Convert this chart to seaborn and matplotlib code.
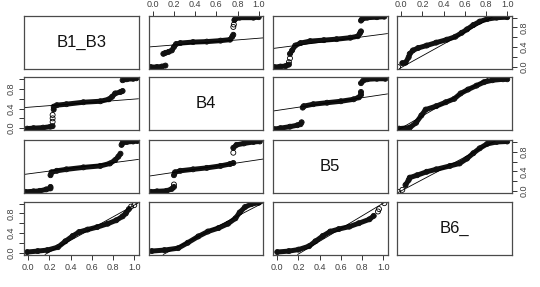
import numpy as np
import pandas as pd
import matplotlib
matplotlib.use("Agg")
import matplotlib.pyplot as plt
import seaborn as sns

sns.set_style("white")
plt.rcParams['font.family'] = ['Liberation Sans', 'DejaVu Sans']

# variable names on the diagonal
var_names = ["B1_B3", "B4", "B5", "B6_"]
tick_vals = [0.0, 0.2, 0.4, 0.6, 0.8, 1.0]
x_tick_labels = ["0.0", "0.2", "0.4", "0.6", "0.8", "1.0"]
y_tick_labels = ["0.0", "", "0.4", "", "0.8", ""]

# ---- panel data (row, col): x, y, segment ids, regression line (intercept, slope)
p12_x = [-0.02, 0.04, 0.085, 0.12, 0.10, 0.12, 0.15, 0.18, 0.20, 0.22, 0.26, 0.38, 0.51, 0.64, 0.73, 0.75, 0.76, 0.76, 0.765, 0.77, 0.78, 0.82, 0.95, 1.0]
p12_y = [-0.01, -0.01, 0.0, 0.02, 0.26, 0.28, 0.30, 0.33, 0.40, 0.46, 0.48, 0.50, 0.51, 0.53, 0.55, 0.61, 0.65, 0.81, 0.86, 0.95, 0.98, 1.0, 1.0, 1.01]
p12_s = [0, 0, 0, 0, 1, 1, 1, 1, 1, 1, 1, 1, 1, 1, 1, 1, 1, 2, 3, 4, 4, 4, 4, 4]
p12_line = (0.407, 0.172)

p13_x = [-0.03, 0.03, 0.08, 0.11, 0.11, 0.12, 0.12, 0.14, 0.17, 0.22, 0.31, 0.44, 0.56, 0.69, 0.76, 0.78, 0.79, 0.79, 0.80, 0.85, 0.94, 1.01]
p13_y = [-0.01, 0.0, 0.01, 0.04, 0.09, 0.17, 0.26, 0.33, 0.43, 0.48, 0.52, 0.54, 0.56, 0.59, 0.62, 0.68, 0.72, 0.94, 0.97, 1.0, 1.01, 1.02]
p13_s = [0, 0, 0, 0, 1, 2, 3, 3, 3, 3, 3, 3, 3, 3, 3, 3, 3, 4, 4, 4, 4, 4]
p13_line = (0.381, 0.282)

p14_x = [-0.03, 0.01, 0.04, 0.07, 0.08, 0.11, 0.16, 0.24, 0.33, 0.43, 0.51, 0.57, 0.62, 0.68, 0.74, 0.81, 0.90, 1.0]
p14_y = [-0.01, 0.07, 0.08, 0.19, 0.26, 0.33, 0.38, 0.43, 0.49, 0.55, 0.61, 0.69, 0.76, 0.85, 0.92, 0.97, 1.0, 1.01]
p14_s = [0, 1, 1, 1, 1, 1, 1, 1, 1, 1, 1, 1, 1, 1, 1, 1, 1, 1]
p14_line = (-0.02, 1.2)

p21_x = [-0.01, 0.05, 0.14, 0.21, 0.23, 0.23, 0.23, 0.23, 0.24, 0.24, 0.27, 0.36, 0.52, 0.68, 0.76, 0.79, 0.82, 0.87, 0.89, 0.89, 0.93, 0.99, 1.02]
p21_y = [-0.01, 0.0, 0.01, 0.03, 0.04, 0.13, 0.20, 0.27, 0.38, 0.44, 0.47, 0.49, 0.53, 0.55, 0.59, 0.64, 0.71, 0.74, 0.76, 0.98, 1.0, 1.01, 1.02]
p21_s = [0, 0, 0, 0, 0, 1, 2, 3, 4, 4, 4, 4, 4, 4, 4, 4, 4, 4, 4, 5, 5, 5, 5]
p21_line = (0.427, 0.167)

p23_x = [-0.03, 0.03, 0.12, 0.19, 0.22, 0.23, 0.24, 0.25, 0.34, 0.47, 0.60, 0.72, 0.77, 0.79, 0.79, 0.79, 0.81, 0.85, 0.94, 1.02]
p23_y = [-0.02, 0.0, 0.03, 0.06, 0.08, 0.12, 0.42, 0.45, 0.49, 0.52, 0.55, 0.59, 0.63, 0.68, 0.74, 0.92, 0.97, 1.0, 1.01, 1.01]
p23_s = [0, 0, 0, 0, 0, 0, 1, 1, 1, 1, 1, 1, 1, 1, 1, 2, 2, 2, 2, 2]
p23_line = (0.363, 0.324)

p24_x = [-0.02, 0.08, 0.14, 0.19, 0.23, 0.33, 0.42, 0.50, 0.56, 0.63, 0.71, 0.78, 0.86, 0.96, 1.0]
p24_y = [-0.01, 0.01, 0.11, 0.26, 0.38, 0.45, 0.53, 0.60, 0.71, 0.79, 0.87, 0.94, 0.98, 1.0, 1.0]
p24_s = [0] * 15
p24_line = (0.0, 1.25)

p31_x = [-0.03, 0.05, 0.11, 0.17, 0.21, 0.21, 0.21, 0.22, 0.27, 0.36, 0.52, 0.68, 0.77, 0.82, 0.85, 0.87, 0.88, 0.89, 0.93, 0.99, 1.03]
p31_y = [-0.02, -0.01, 0.0, 0.03, 0.05, 0.08, 0.32, 0.38, 0.41, 0.44, 0.48, 0.51, 0.56, 0.63, 0.70, 0.76, 0.94, 0.98, 1.0, 1.01, 1.02]
p31_s = [0, 0, 0, 0, 0, 0, 1, 1, 1, 1, 1, 1, 1, 1, 1, 1, 2, 2, 2, 2, 2]
p31_line = (0.347, 0.285)

p32_x = [-0.02, 0.04, 0.13, 0.18, 0.20, 0.20, 0.20, 0.21, 0.26, 0.38, 0.51, 0.64, 0.73, 0.76, 0.76, 0.76, 0.79, 0.86, 0.95, 1.01]
p32_y = [-0.02, -0.01, 0.0, 0.04, 0.08, 0.13, 0.32, 0.38, 0.41, 0.44, 0.47, 0.51, 0.55, 0.57, 0.78, 0.88, 0.94, 0.97, 1.0, 1.01]
p32_s = [0, 0, 0, 0, 0, 1, 2, 2, 2, 2, 2, 2, 2, 2, 3, 4, 4, 4, 4, 4]
p32_line = (0.313, 0.324)

p34_x = [-0.03, 0.01, 0.04, 0.07, 0.08, 0.15, 0.24, 0.33, 0.46, 0.55, 0.62, 0.68, 0.74, 0.81, 0.90, 1.0]
p34_y = [-0.02, 0.02, 0.12, 0.22, 0.27, 0.32, 0.39, 0.44, 0.51, 0.56, 0.66, 0.77, 0.87, 0.96, 1.0, 1.01]
p34_s = [0, 1, 2, 2, 2, 2, 2, 2, 2, 2, 2, 2, 2, 2, 2, 2]
p34_line = (0.0, 1.15)

p41_x = [-0.01, 0.09, 0.18, 0.28, 0.35, 0.42, 0.48, 0.56, 0.65, 0.75, 0.83, 0.89, 0.92, 0.95, 0.97, 1.0]
p41_y = [0.01, 0.03, 0.05, 0.11, 0.23, 0.34, 0.42, 0.47, 0.52, 0.59, 0.66, 0.74, 0.80, 0.89, 0.94, 0.97]
p41_s = [0] * 14 + [1, 2]
p41_line = (-0.23, 1.2)

p42_x = [-0.01, 0.11, 0.24, 0.33, 0.43, 0.52, 0.62, 0.71, 0.78, 0.82, 0.87, 0.93, 1.0]
p42_y = [0.03, 0.05, 0.09, 0.20, 0.33, 0.43, 0.50, 0.59, 0.70, 0.82, 0.93, 0.99, 1.02]
p42_s = [0] * 13
p42_line = (-0.15, 1.12)

p43_x = [0.0, 0.11, 0.20, 0.30, 0.36, 0.43, 0.50, 0.58, 0.68, 0.77, 0.87, 0.91, 0.95, 0.96, 1.01]
p43_y = [0.01, 0.03, 0.06, 0.13, 0.23, 0.34, 0.43, 0.48, 0.53, 0.60, 0.68, 0.75, 0.84, 0.89, 1.01]
p43_s = [0] * 12 + [1, 2, 3]
p43_line = (-0.29, 1.3)

panels = {
    (0, 1): (p12_x, p12_y, p12_s, p12_line),
    (0, 2): (p13_x, p13_y, p13_s, p13_line),
    (0, 3): (p14_x, p14_y, p14_s, p14_line),
    (1, 0): (p21_x, p21_y, p21_s, p21_line),
    (1, 2): (p23_x, p23_y, p23_s, p23_line),
    (1, 3): (p24_x, p24_y, p24_s, p24_line),
    (2, 0): (p31_x, p31_y, p31_s, p31_line),
    (2, 1): (p32_x, p32_y, p32_s, p32_line),
    (2, 3): (p34_x, p34_y, p34_s, p34_line),
    (3, 0): (p41_x, p41_y, p41_s, p41_line),
    (3, 1): (p42_x, p42_y, p42_s, p42_line),
    (3, 2): (p43_x, p43_y, p43_s, p43_line),
}

# ---- layout (pixels)
W, H = 540, 287
col_left = [24, 148.5, 273, 397]
row_top = [15.7, 77.3, 140, 201.7]
pw, ph = 114.5, 52.8

fig = plt.figure(figsize=(W / 100, H / 100), dpi=100)
axes = {}
for r in range(4):
    for c in range(4):
        ax = fig.add_axes([col_left[c] / W, 1 - (row_top[r] + ph) / H, pw / W, ph / H])
        ax.set_xlim(-0.04, 1.04)
        ax.set_ylim(-0.04, 1.04)
        for sp in ax.spines.values():
            sp.set_color("#4a4a4a")
            sp.set_linewidth(0.9)
        ax.set_xticks([])
        ax.set_yticks([])
        axes[(r, c)] = ax

tick_kw = dict(length=3.5, width=0.7, color="#333333", labelsize=6.5,
               labelcolor="#404040", direction="out")

for (r, c), ax in axes.items():
    if r == c:
        ax.text(0.5, 0.5, var_names[r], transform=ax.transAxes, ha="center",
                va="center", fontsize=12, color="#111111")
        continue
    px, py, ps, (a, b) = panels[(r, c)]
    df = pd.DataFrame({"x": px, "y": py, "seg": ps})
    sns.lineplot(data=df, x="x", y="y", units="seg", estimator=None, sort=False,
                 color="#111111", linewidth=3.6, solid_capstyle="round",
                 solid_joinstyle="round", ax=ax, legend=False)
    n_before = len(ax.collections)
    sns.scatterplot(data=df, x="x", y="y", marker="o", s=13,
                    edgecolor="black", linewidth=0.6, ax=ax, legend=False)
    for coll in ax.collections[n_before:]:
        coll.set_facecolor("none")
        coll.set_edgecolor("black")
    ax.axline((0, a), slope=b, color="black", linewidth=0.6)
    ax.set_xlim(-0.04, 1.04)
    ax.set_ylim(-0.04, 1.04)
    ax.set_xlabel("")
    ax.set_ylabel("")
    ax.set_xticks([])
    ax.set_yticks([])

# top x axes: (0,1), (0,3); bottom x axes: (3,0), (3,2)
for key, side in [((0, 1), "top"), ((0, 3), "top"), ((3, 0), "bottom"), ((3, 2), "bottom")]:
    ax = axes[key]
    ax.set_xticks(tick_vals)
    ax.set_xticklabels(x_tick_labels)
    if side == "top":
        ax.xaxis.tick_top()
        ax.tick_params(axis="x", top=True, bottom=False, labeltop=True,
                       labelbottom=False, pad=1.2, **tick_kw)
    else:
        ax.tick_params(axis="x", bottom=True, labelbottom=True, pad=2.5, **tick_kw)

# left y axes: (1,0), (3,0); right y axes: (0,3), (2,3)
for key, side in [((1, 0), "left"), ((3, 0), "left"), ((0, 3), "right"), ((2, 3), "right")]:
    ax = axes[key]
    ax.set_yticks(tick_vals)
    ax.set_yticklabels(y_tick_labels, rotation=90, va="center")
    if side == "right":
        ax.yaxis.tick_right()
        ax.tick_params(axis="y", right=True, left=False, labelright=True,
                       labelleft=False, pad=2.5, **tick_kw)
    else:
        ax.tick_params(axis="y", left=True, labelleft=True, pad=2.5, **tick_kw)

fig.savefig("out.png", dpi=100)
